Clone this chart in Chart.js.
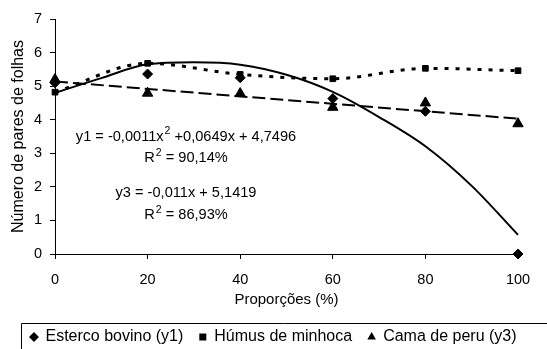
<!DOCTYPE html>
<html><head><meta charset="utf-8">
<script src="https://cdn.jsdelivr.net/npm/chart.js@4.4.0/dist/chart.umd.min.js"></script>
<style>html,body{margin:0;padding:0;background:#fff;overflow:hidden}</style>
</head><body>
<canvas id="c" width="547" height="349"></canvas>
<script>
// ---- data ----
const proportions = [0, 20, 40, 60, 80, 100];
const estercoBovino = [5.10, 5.36, 5.25, 4.63, 4.25, 0.00];
const humusMinhoca = [4.82, 5.68, 5.35, 5.22, 5.53, 5.46];
const camaPeru = [5.20, 4.79, 4.78, 4.37, 4.50, 3.88];
// trend curves as drawn in the picture
const trendX1 = [0, 10, 20, 30, 40, 50, 60, 70, 80, 90, 100];
const trendY1 = [4.80, 5.24, 5.65, 5.71, 5.64, 5.34, 4.83, 4.08, 3.21, 2.03, 0.57];
const trendX3 = [0, 100];
const trendY3 = [5.14, 4.03];
const xTicks = [0, 20, 40, 60, 80, 100];
const yTicks = [0, 1, 2, 3, 4, 5, 6, 7];
const seriesNames = ['Esterco bovino (y1)', 'Húmus de minhoca', 'Cama de peru (y3)'];
const equations = [
  {pre: 'y1 = -0,0011x', sup: '2', post: ' +0,0649x + 4,7496', x: 28.3, y: 3.50},
  {pre: 'R', sup: '2', post: ' = 90,14%', x: 28.3, y: 2.87},
  {pre: 'y3 = -0,011x + 5,1419', sup: '', post: '', x: 28.3, y: 1.83},
  {pre: 'R', sup: '2', post: ' = 86,93%', x: 28.3, y: 1.17}
];

const FONT = "'Liberation Sans', Arial, sans-serif";
Chart.defaults.font.family = FONT;
Chart.defaults.color = '#000';

const pts = (xs, ys) => xs.map((x, i) => ({x, y: ys[i]}));

const annotPlugin = {
  id: 'annot',
  afterDraw(chart) {
    const ctx = chart.ctx;
    const xs = chart.scales.x, ys = chart.scales.y;
    ctx.save();
    ctx.fillStyle = '#000';
    ctx.textBaseline = 'middle';
    ctx.textAlign = 'left';
    const f = "14.6px " + FONT, fs = "10.5px " + FONT;
    equations.forEach(e => {
      ctx.font = f; const w1 = ctx.measureText(e.pre).width, w3 = ctx.measureText(e.post).width;
      ctx.font = fs; const w2 = e.sup ? ctx.measureText(e.sup).width + 1 : 0;
      const cx = xs.getPixelForValue(e.x), cy = ys.getPixelForValue(e.y);
      let x = cx - (w1 + w2 + w3) / 2;
      ctx.font = f; ctx.fillText(e.pre, x, cy); x += w1;
      if (e.sup) { ctx.font = fs; ctx.fillText(e.sup, x + 1, cy - 5); x += w2; }
      ctx.font = f; ctx.fillText(e.post, x, cy);
    });
    // legend frame
    ctx.strokeStyle = '#000'; ctx.lineWidth = 1;
    ctx.beginPath();
    ctx.moveTo(21.5, 360); ctx.lineTo(21.5, 323.5); ctx.lineTo(560, 323.5);
    ctx.stroke();
    ctx.restore();
  }
};

new Chart(document.getElementById('c'), {
  type: 'scatter',
  data: {
    datasets: [
      {label: seriesNames[0], data: pts(proportions, estercoBovino), pointStyle: 'rectRot', pointRadius: 5,
       backgroundColor: '#000', borderColor: '#000', borderWidth: 1, showLine: false, clip: false},
      {label: seriesNames[1], data: pts(proportions, humusMinhoca), pointStyle: 'rect', pointRadius: 4,
       backgroundColor: '#000', borderColor: '#000', pointBorderWidth: 1, borderWidth: 3, borderDash: [4, 7],
       showLine: true, cubicInterpolationMode: 'monotone', clip: false},
      {label: seriesNames[2], data: pts(proportions, camaPeru), pointStyle: 'triangle', pointRadius: 6,
       backgroundColor: '#000', borderColor: '#000', borderWidth: 1, showLine: false, clip: false},
      {label: 'trend1', data: pts(trendX1, trendY1), showLine: true, pointRadius: 0, borderColor: '#000',
       borderWidth: 2, cubicInterpolationMode: 'monotone', clip: false},
      {label: 'trend3', data: pts(trendX3, trendY3), showLine: true, pointRadius: 0, borderColor: '#000',
       borderWidth: 2, borderDash: [13, 5], clip: false}
    ]
  },
  options: {
    responsive: false, animation: false, devicePixelRatio: 1,
    layout: {padding: {left: 0, right: 0, top: 19, bottom: -6}},
    plugins: {
      tooltip: {enabled: false},
      legend: {
        position: 'bottom',
        labels: {
          usePointStyle: true, boxWidth: 7, boxHeight: 7, padding: 16,
          font: {size: 16},
          filter: item => item.datasetIndex < 3,
          generateLabels: chart => Chart.defaults.plugins.legend.labels.generateLabels(chart)
            .map(l => Object.assign(l, {lineWidth: 0, lineDash: [], fillStyle: '#000', strokeStyle: '#000'}))
        }
      }
    },
    scales: {
      x: {
        type: 'linear', min: 0, max: 100,
        afterBuildTicks: s => { s.ticks = xTicks.map(v => ({value: v})); },
        afterFit: s => { s.height = 59; },
        ticks: {font: {size: 14.5}, padding: 12, color: '#000'},
        grid: {drawOnChartArea: false, drawTicks: true, tickLength: 5, color: '#000'},
        border: {color: '#000', width: 1},
        title: {display: true, text: 'Proporções (%)', font: {size: 15}, padding: {top: 0, bottom: 4}}
      },
      y: {
        min: 0, max: 7,
        afterBuildTicks: s => { s.ticks = yTicks.map(v => ({value: v})); },
        afterFit: s => { s.width = 55; },
        ticks: {font: {size: 14.5}, padding: 8, color: '#000'},
        grid: {drawOnChartArea: false, drawTicks: true, tickLength: 5, color: '#000'},
        border: {color: '#000', width: 1},
        title: {display: true, text: 'Número de pares de folhas', font: {size: 16}, padding: {top: 9, bottom: 0}}
      },
      yR: {
        position: 'right', min: 0, max: 7,
        afterFit: s => { s.width = 29; },
        ticks: {display: false},
        grid: {display: false},
        border: {display: false}
      }
    }
  },
  plugins: [annotPlugin]
});
</script>
</body></html>
